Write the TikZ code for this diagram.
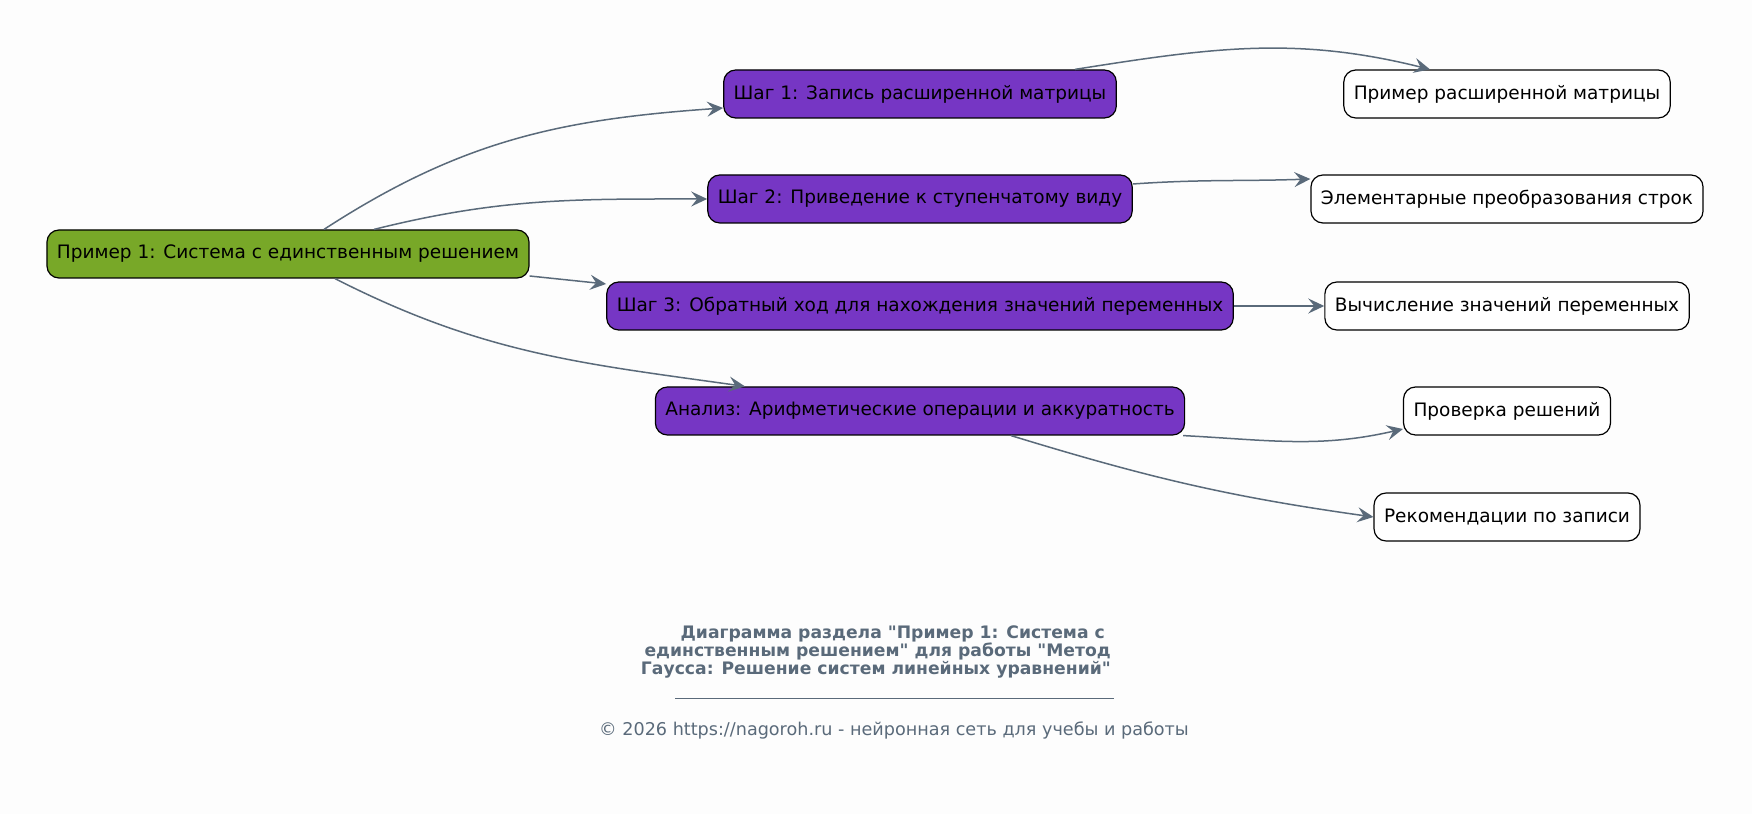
\documentclass[tikz,border=0pt]{standalone}
\usepackage{fontspec}
\setmainfont{DejaVu Sans}[Ligatures=TeXOff]
\usetikzlibrary{arrows.meta}
\definecolor{bgcol}{RGB}{253,253,253}
\definecolor{rootcol}{RGB}{120,168,40}
\definecolor{stepcol}{RGB}{118,54,196}
\definecolor{linkcol}{RGB}{90,106,122}
\tikzset{
	box/.style={draw=black, line width=1.2pt, rounded corners=12pt, minimum height=48pt, inner xsep=10pt, font={\fontsize{18.5}{22}\selectfont}},
	rootbox/.style={box, fill=rootcol},
	stepbox/.style={box, fill=stepcol},
	leafbox/.style={box, fill=white},
	link/.style={draw=linkcol, line width=1.5pt, -{Stealth[length=16pt,width=15pt,inset=6pt]}},
}

\begin{document}
\begin{tikzpicture}[x=1pt,y=1pt]
		%%%%% START %%%%%
		
		\fill[bgcol] (0,0) rectangle (1752,814);
		\useasboundingbox (0,0) rectangle (1752,814);
		
		\node[rootbox] (root) at (288,560) {Пример 1: Система с единственным решением};
		
		\node[stepbox] (step1) at (920,720) {Шаг 1: Запись расширенной матрицы};
		\node[stepbox] (step2) at (920,615) {Шаг 2: Приведение к ступенчатому виду};
		\node[stepbox] (step3) at (920,508) {Шаг 3: Обратный ход для нахождения значений переменных};
		\node[stepbox] (anal) at (920,403) {Анализ: Арифметические операции и аккуратность};
		
		\node[leafbox] (ex1) at (1507,720) {Пример расширенной матрицы};
		\node[leafbox] (ex2) at (1507,615) {Элементарные преобразования строк};
		\node[leafbox] (ex3) at (1507,508) {Вычисление значений переменных};
		\node[leafbox] (chk) at (1507,403) {Проверка решений};
		\node[leafbox] (rec) at (1507,297) {Рекомендации по записи};
		
		\draw[link] ([xshift=36pt]root.north) to[out=33,in=184] ([yshift=-14pt]step1.west);
		\draw[link] ([xshift=86pt]root.north) to[out=14,in=180] (step2.west);
		\draw[link] ([yshift=-22pt]root.east) -- ([yshift=22pt]step3.west);
		\draw[link] ([xshift=47pt]root.south) to[out=-27,in=172] ([xshift=-175pt]anal.north);
		
		\draw[link] ([xshift=155pt]step1.north) to[out=9,in=166] ([xshift=-77pt]ex1.north);
		\draw[link] ([yshift=15pt]step2.east) to[out=4,in=182] ([yshift=20pt]ex2.west);
		\draw[link] (step3.east) -- (ex3.west);
		\draw[link] ([xshift=-2pt]anal.south east) to[out=-3,in=193] ([yshift=-18pt]chk.west);
		\draw[link] ([xshift=91pt]anal.south) to[out=-17,in=172] (rec.west);
		
		% title and footer
		\node[text=linkcol, font={\fontsize{17.2}{18}\selectfont\bfseries}, align=right, anchor=east, inner sep=0pt] (title) at (1111,162) {Диаграмма раздела "Пример 1: Система с\hspace*{6pt}\\единственным решением" для работы "Метод\\Гаусса: Решение систем линейных уравнений"};
		\draw[linkcol, line width=0.8pt] (675,116) -- (1114,116);
		\node[text=linkcol, font={\fontsize{17.6}{20}\selectfont}] (foot) at (894,84) {© 2026 https://nagoroh.ru - нейронная сеть для учебы и работы};
		
		%%%%% END %%%%%
\end{tikzpicture}
\end{document}
